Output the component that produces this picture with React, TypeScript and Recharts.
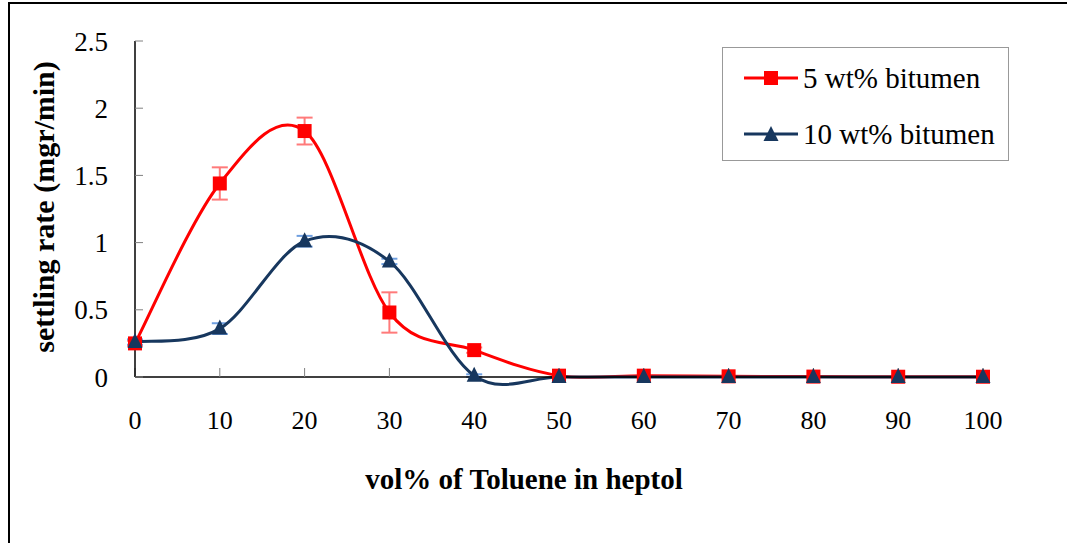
import React from 'react';
import { LineChart, Line, XAxis, YAxis, ErrorBar, Legend, Label } from 'recharts';

// values
const volToluene = [0, 10, 20, 30, 40, 50, 60, 70, 80, 90, 100];
const rate5 = [0.25, 1.44, 1.83, 0.48, 0.2, 0.01, 0.01, 0.005, 0.003, 0.002, 0.002];
const err5 = [0.02, 0.12, 0.1, 0.15, 0.02, 0, 0, 0, 0, 0, 0];
const rate10 = [0.26, 0.36, 1.01, 0.86, 0.01, 0, 0, 0, 0, 0, 0];
const err10 = [0.02, 0.04, 0.04, 0.02, 0.01, 0, 0, 0, 0, 0, 0];

const xTicks = [0, 10, 20, 30, 40, 50, 60, 70, 80, 90, 100];
const yTicks = [0, 0.5, 1, 1.5, 2, 2.5];

const data = volToluene.map((x, i) => ({
  x,
  rate5: rate5[i],
  err5: err5[i],
  rate10: rate10[i],
  err10: err10[i],
}));

const series = [
  { key: 'rate5', err: 'err5', name: '5 wt% bitumen', color: '#FF0000', errColor: '#FF7A7A', shape: 'square' },
  { key: 'rate10', err: 'err10', name: '10 wt% bitumen', color: '#17375E', errColor: '#6F9FE0', shape: 'triangle' },
];

const FONT = '"Liberation Serif", "Times New Roman", serif';

// Excel-like smoothed line (Catmull-Rom through the points)
function excelSmooth(context: any) {
  let pts: number[][] = [];
  return {
    areaStart() {},
    areaEnd() {},
    lineStart() {
      pts = [];
    },
    point(x: number, y: number) {
      pts.push([+x, +y]);
    },
    lineEnd() {
      if (!pts.length) return;
      context.moveTo(pts[0][0], pts[0][1]);
      for (let i = 0; i < pts.length - 1; i++) {
        const p0 = pts[Math.max(0, i - 1)];
        const p1 = pts[i];
        const p2 = pts[i + 1];
        const p3 = pts[Math.min(pts.length - 1, i + 2)];
        context.bezierCurveTo(
          p1[0] + (p2[0] - p0[0]) / 6,
          p1[1] + (p2[1] - p0[1]) / 6,
          p2[0] - (p3[0] - p1[0]) / 6,
          p2[1] - (p3[1] - p1[1]) / 6,
          p2[0],
          p2[1]
        );
      }
    },
  };
}

function Marker({ shape, cx, cy, color }: { shape: string; cx: number; cy: number; color: string }) {
  if (shape === 'square') {
    return <rect x={cx - 7} y={cy - 7} width={14} height={14} fill={color} />;
  }
  return (
    <polygon
      points={`${cx},${cy - 9} ${cx - 7.5},${cy + 6} ${cx + 7.5},${cy + 6}`}
      fill={color}
    />
  );
}

function LegendBox() {
  return (
    <div
      style={{
        width: 287,
        height: 114,
        border: '1px solid #999',
        boxSizing: 'border-box',
        background: '#fff',
        position: 'relative',
        fontFamily: FONT,
        fontSize: 29,
        color: '#000',
      }}
    >
      {series.map((s, i) => (
        <div
          key={s.key}
          style={{ position: 'absolute', left: 20, top: 13 + i * 56, height: 34, display: 'flex', alignItems: 'center' }}
        >
          <svg width={56} height={20}>
            <line x1={1} y1={10} x2={55} y2={10} stroke={s.color} strokeWidth={3} />
            <Marker shape={s.shape} cx={28} cy={s.shape === 'square' ? 10 : 11} color={s.color} />
          </svg>
          <span style={{ marginLeft: 4, whiteSpace: 'nowrap', lineHeight: '34px' }}>{s.name}</span>
        </div>
      ))}
    </div>
  );
}

export default function App() {
  return (
    <div style={{ position: 'absolute', left: 0, top: 0, width: 1067, height: 543, overflow: 'hidden', background: '#fff' }}>
      <div
        style={{
          position: 'absolute',
          left: 8,
          top: 2,
          width: 1120,
          height: 620,
          border: '2px solid #000',
          boxSizing: 'border-box',
        }}
      />
      <div style={{ position: 'absolute', left: 0, top: 0 }}>
        <LineChart width={1067} height={543} data={data} margin={{ top: 41, right: 84, bottom: 56, left: 0 }}>
          <XAxis
            type="number"
            dataKey="x"
            domain={[0, 100]}
            ticks={xTicks}
            interval={0}
            height={110}
            tickSize={-9}
            tickMargin={43}
            axisLine={{ stroke: '#000', strokeWidth: 1.5 }}
            tickLine={{ stroke: '#808080' }}
            tick={{ fill: '#000', fontSize: 26, fontFamily: FONT }}
          >
            <Label
              content={({ viewBox }: any) => (
                <text
                  x={viewBox.x + viewBox.width / 2 - 35}
                  y={viewBox.y + 112}
                  textAnchor="middle"
                  fontFamily={FONT}
                  fontWeight="bold"
                  fontSize={29}
                  fill="#000"
                >
                  vol% of Toluene in heptol
                </text>
              )}
            />
          </XAxis>
          <YAxis
            type="number"
            domain={[0, 2.5]}
            ticks={yTicks}
            interval={0}
            width={135}
            tickSize={-8}
            tickMargin={35}
            axisLine={{ stroke: '#000', strokeWidth: 1.5 }}
            tickLine={{ stroke: '#808080' }}
            tick={{ fill: '#000', fontSize: 27, fontFamily: FONT }}
          >
            <Label
              content={({ viewBox }: any) => {
                const cx = 54;
                const cy = viewBox.y + viewBox.height / 2 - 2;
                return (
                  <text
                    x={cx}
                    y={cy}
                    transform={`rotate(-90, ${cx}, ${cy})`}
                    textAnchor="middle"
                    fontFamily={FONT}
                    fontWeight="bold"
                    fontSize={30}
                    fill="#000"
                  >
                    settling rate (mgr/min)
                  </text>
                );
              }}
            />
          </YAxis>
          <Legend
            layout="horizontal"
            verticalAlign="middle"
            align="center"
            wrapperStyle={{ left: 722, top: 47, width: 287, height: 114 }}
            content={() => <LegendBox />}
          />
          {series.map((s) => (
            <Line
              key={s.key}
              dataKey={s.key}
              name={s.name}
              type={excelSmooth as any}
              stroke={s.color}
              strokeWidth={3}
              isAnimationActive={false}
              activeDot={false}
              dot={(p: any) => (
                <Marker key={`${s.key}-${p.index}`} shape={s.shape} cx={p.cx} cy={p.cy} color={s.color} />
              )}
            >
              <ErrorBar dataKey={s.err} direction="y" width={8} strokeWidth={2} stroke={s.errColor} isAnimationActive={false} />
            </Line>
          ))}
        </LineChart>
      </div>
    </div>
  );
}
